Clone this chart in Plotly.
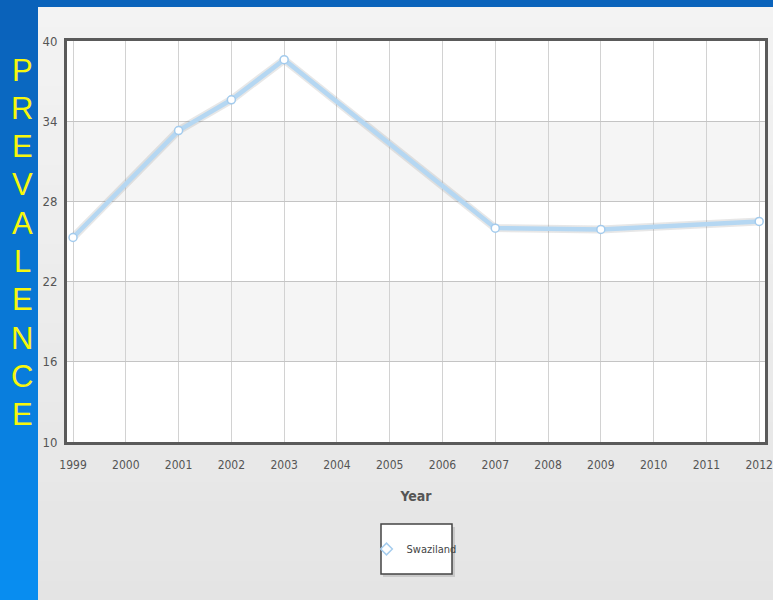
import plotly.graph_objects as go

years = [1999, 2001, 2002, 2003, 2007, 2009, 2012]
prevalence = [25.3, 33.3, 35.6, 38.6, 26.0, 25.9, 26.5]
x_ticks = list(range(1999, 2013))
y_ticks = [10, 16, 22, 28, 34, 40]
series_name = "Swaziland"
side_title = "PREVALENCE"

W, H = 773, 600
L, R, T, B = 67, 8, 41, 158
PW, PH = W - L - R, H - T - B


def px(x):
    return (x - L) / PW


def py(y):
    return (H - B - y) / PH


def lerp(c1, c2, t):
    return "rgb(%d,%d,%d)" % tuple(round(a + (b - a) * t) for a, b in zip(c1, c2))


shapes = []
n = 30
for i in range(n):
    y0 = 7 + (H - 7) * i / n
    y1 = 7 + (H - 7) * (i + 1) / n + 1
    shapes.append(dict(type="rect", xref="paper", yref="paper", x0=px(38), x1=px(W),
                       y0=py(y1), y1=py(y0), line_width=0,
                       fillcolor=lerp((243, 243, 243), (228, 228, 228), i / n), layer="below"))
shapes.append(dict(type="rect", xref="paper", yref="paper", x0=px(0), x1=px(W),
                   y0=py(7), y1=py(0), line_width=0, fillcolor="#0a63bb", layer="below"))
for i in range(n):
    y0 = H * i / n
    y1 = H * (i + 1) / n + 1
    shapes.append(dict(type="rect", xref="paper", yref="paper", x0=px(0), x1=px(38),
                       y0=py(y1), y1=py(y0), line_width=0,
                       fillcolor=lerp((10, 98, 186), (8, 142, 242), i / n), layer="below"))
shapes.append(dict(type="rect", xref="paper", yref="paper", x0=0, x1=1, y0=0, y1=1,
                   line_width=0, fillcolor="white", layer="below"))
for lo, hi in [(28, 34), (16, 22)]:
    shapes.append(dict(type="rect", xref="paper", yref="y", x0=0, x1=1, y0=lo, y1=hi,
                       line_width=0, fillcolor="#f5f5f5", layer="below"))
shapes.append(dict(type="rect", xref="paper", yref="paper", x0=px(383), x1=px(455),
                   y0=py(577), y1=py(527), line_width=0, fillcolor="rgba(0,0,0,0.12)"))
shapes.append(dict(type="rect", xref="paper", yref="paper", x0=px(381), x1=px(452),
                   y0=py(574), y1=py(524), line=dict(color="#444", width=1.5), fillcolor="white"))

annotations = []
for i, ch in enumerate(side_title):
    annotations.append(dict(text=ch, xref="paper", yref="paper", x=px(22), y=py(70 + i * 38.3),
                            showarrow=False, xanchor="center", yanchor="middle",
                            font=dict(family="Liberation Sans, Arial", size=31, color="#f7f70c")))

font_c = "Liberation Sans Narrow, DejaVu Sans Condensed, Liberation Sans, Arial, sans-serif"

fig = go.Figure()
fig.add_trace(go.Scatter(x=years, y=prevalence, mode="lines", showlegend=False, hoverinfo="skip",
                         line=dict(color="rgba(120,120,120,0.18)", width=8)))
fig.add_trace(go.Scatter(x=years, y=prevalence, mode="lines+markers", name=series_name,
                         showlegend=False,
                         line=dict(color="#b5d7f2", width=4.5),
                         marker=dict(symbol="circle", size=8, color="white",
                                     line=dict(color="#a3cbed", width=1.5))))
fig.add_trace(go.Scatter(x=[None], y=[None], mode="markers", name=series_name,
                         marker=dict(symbol="diamond-open", size=9, color="#a6cdee",
                                     line=dict(width=1.5))))

fig.update_layout(
    width=W, height=H,
    margin=dict(l=L, r=R, t=T, b=B, pad=0),
    paper_bgcolor="#e8e8e8",
    plot_bgcolor="rgba(0,0,0,0)",
    shapes=shapes,
    annotations=annotations,
    showlegend=True,
    legend=dict(x=px(414), y=py(549), xanchor="center", yanchor="middle",
                bgcolor="rgba(0,0,0,0)", borderwidth=0, itemwidth=30,
                font=dict(family=font_c, size=11, color="#444")),
    xaxis=dict(range=[1998.886, 2012.11], tickvals=x_ticks, ticktext=[str(v) for v in x_ticks],
               automargin=False, ticklabeloverflow="allow",
               showgrid=True, gridcolor="#d2d2d2", gridwidth=1,
               ticks="outside", ticklen=10, tickcolor="rgba(0,0,0,0)",
               tickfont=dict(family=font_c, size=12, color="#555"),
               title=dict(text="<b>Year</b>", standoff=20,
                          font=dict(family=font_c, size=14, color="#555")),
               showline=True, linecolor="#5a5a5a", linewidth=3, mirror=True, zeroline=False),
    yaxis=dict(range=[10, 40], tickvals=y_ticks, automargin=False,
               showgrid=True, gridcolor="#c4c4c4", gridwidth=1,
               ticks="outside", ticklen=4, tickcolor="rgba(0,0,0,0)",
               tickfont=dict(family=font_c, size=13, color="#555"),
               showline=True, linecolor="#5a5a5a", linewidth=3, mirror=True, zeroline=False),
)

fig.write_html("out.html", config={"displayModeBar": False},
               post_script="document.body.style.margin='0';document.body.style.overflow='hidden';")
